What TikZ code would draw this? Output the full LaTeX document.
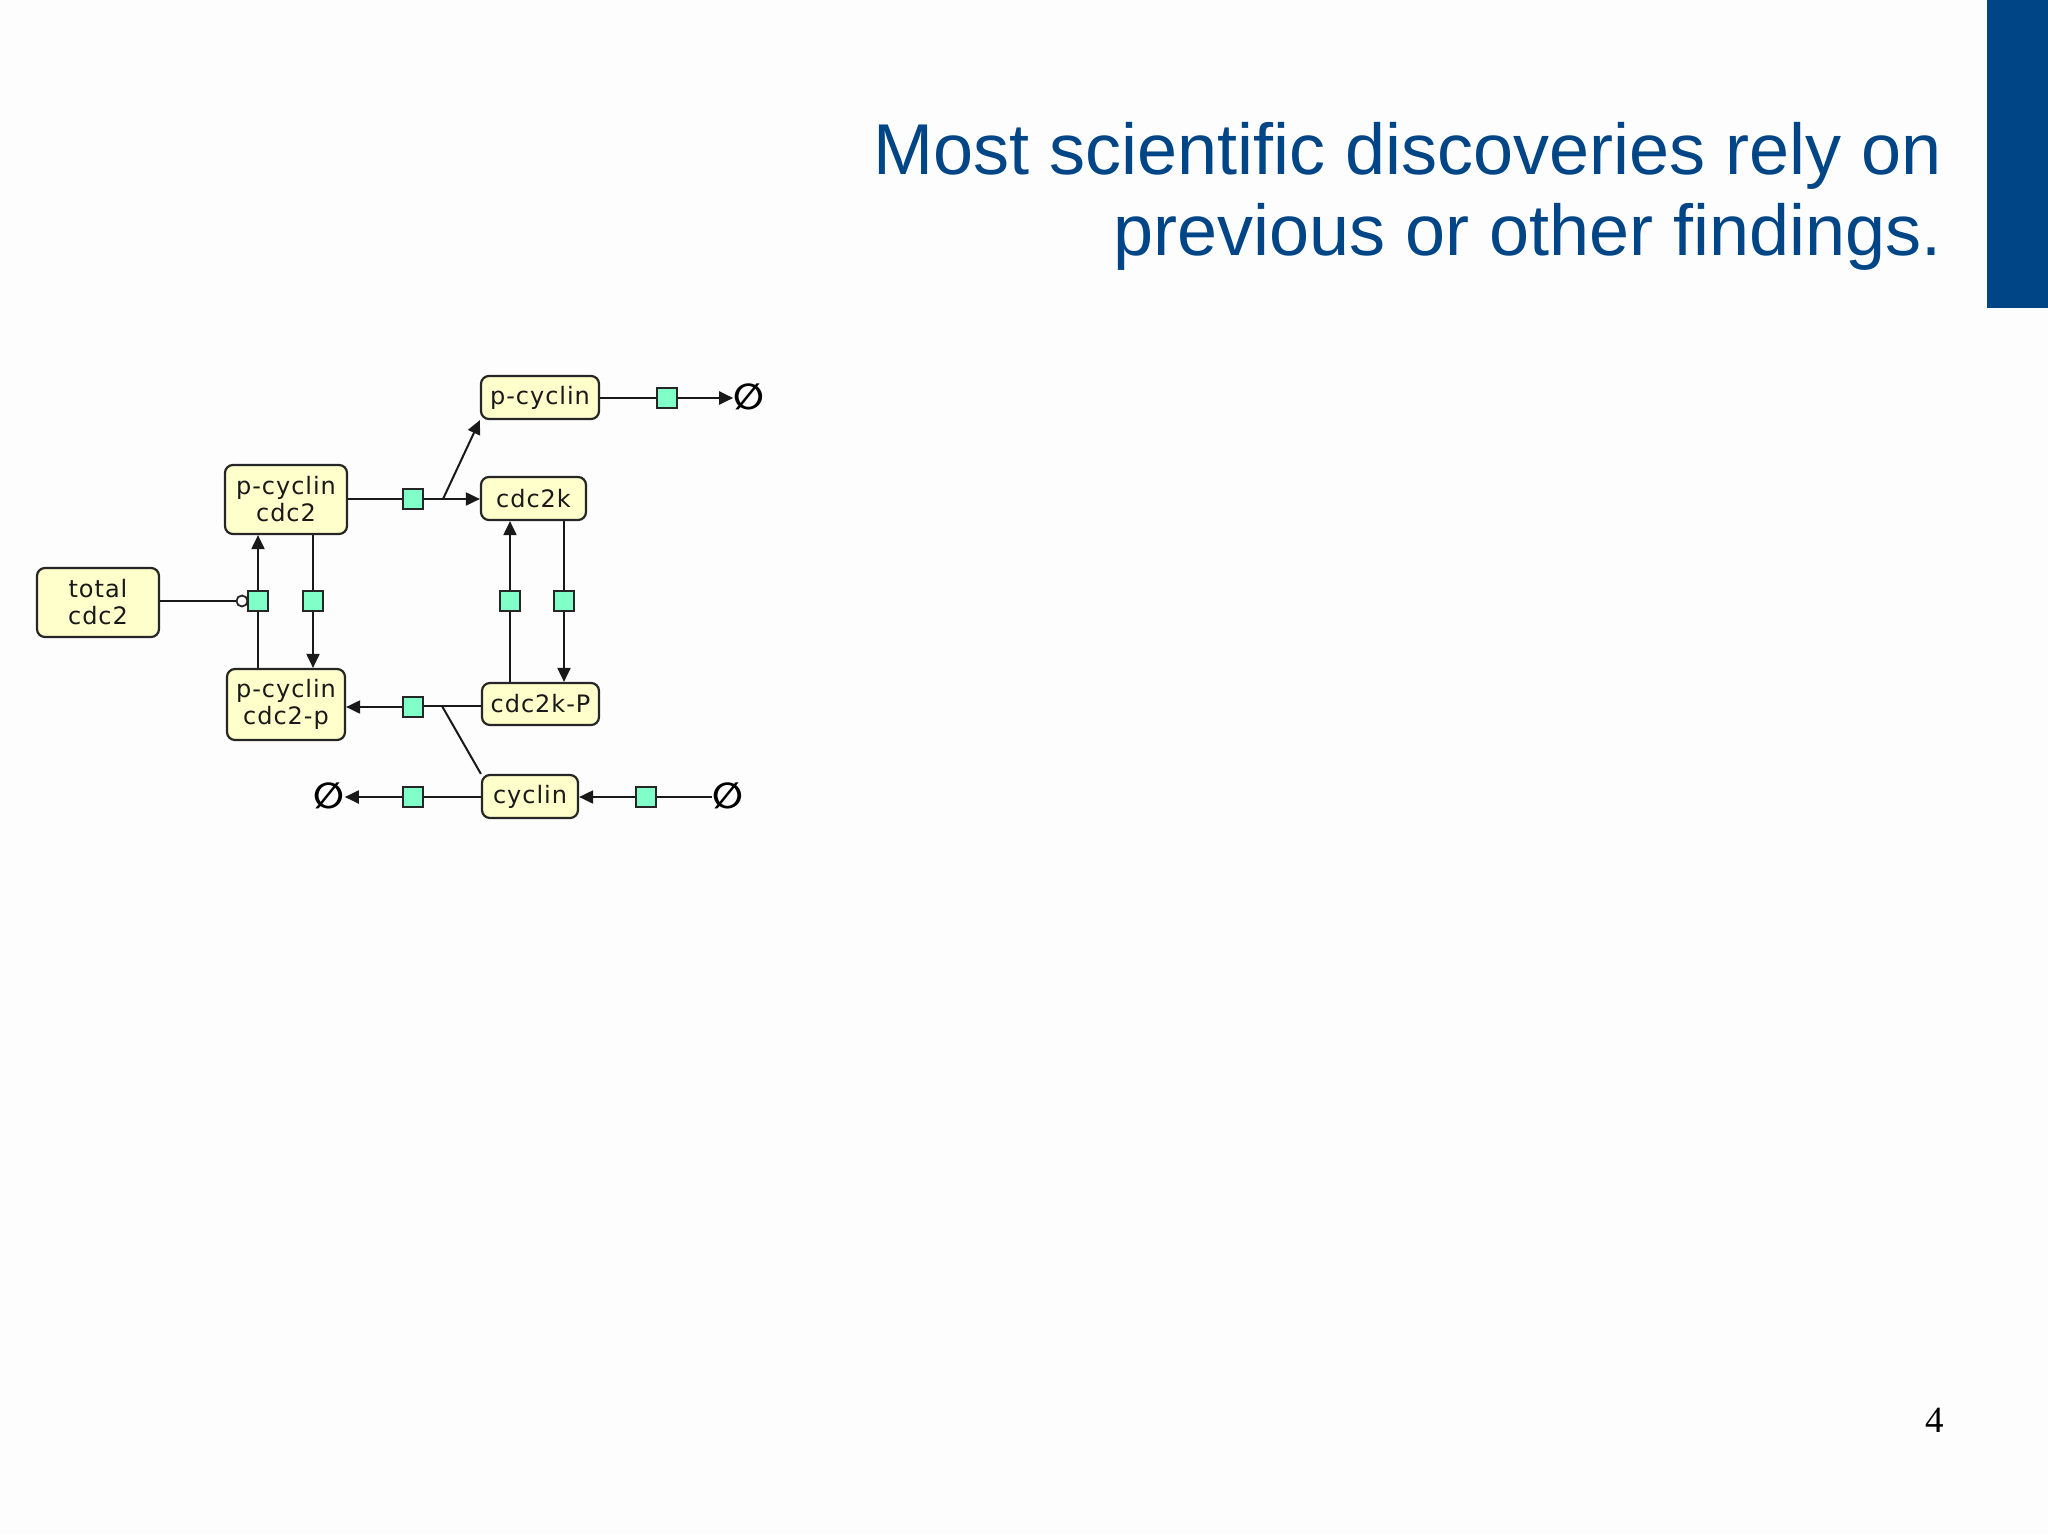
\documentclass[tikz,border=0pt]{standalone}
\usepackage{fontspec}
\setmainfont{Liberation Serif}
\newfontfamily\titlefont{Liberation Sans}
\newfontfamily\nodefont[LetterSpace=4]{DejaVu Sans}
\newfontfamily\esetfont{DejaVu Sans Bold}
\usetikzlibrary{arrows.meta}
\definecolor{titleblue}{RGB}{0,69,134}
\definecolor{boxfill}{RGB}{255,255,204}
\definecolor{sqfill}{RGB}{128,255,200}
\definecolor{bgcol}{RGB}{253,253,253}
\begin{document}
\begin{tikzpicture}[x=0.5pt,y=-0.5pt,
 species/.style={draw=black!85, line width=1.1pt, fill=boxfill, rounded corners=4pt, inner sep=0pt, align=center, font=\nodefont\fontsize{12}{13.5}\selectfont, text=black!90},
 proc/.style={draw=black!85, line width=0.9pt, fill=sqfill, minimum size=10pt, inner sep=0pt},
 emptyset/.style={inner sep=0pt, font=\esetfont\fontsize{18}{18}\selectfont},
 modcirc/.style={circle, draw=black!85, line width=0.9pt, fill=white, minimum size=5.5pt, inner sep=0pt},
 conn/.style={line width=1pt, draw=black!90},
 arr/.style={conn, -{Triangle[length=7pt,width=6.5pt]}},
]
\useasboundingbox (0,0) rectangle (2048,1535);
\fill[bgcol] (0,0) rectangle (2048,1535);
\fill[titleblue] (1987,0) rectangle (2048,308);

% title
\node[anchor=base east, inner sep=0pt, font=\titlefont\fontsize{36}{36}\selectfont, text=titleblue] (t1) at (1942,175) {Most scientific discoveries rely on};
\node[anchor=base east, inner sep=0pt, font=\titlefont\fontsize{36}{36}\selectfont, text=titleblue] (t2) at (1942,256) {previous or other findings.};

% page number
\node[anchor=base east, inner sep=0pt, font=\fontsize{18.5}{18.5}\selectfont] (pn) at (1944,1432) {4};

% species
\node[species, minimum width=61pt, minimum height=34.5pt] (pcdc2) at (286,499.5) {p-cyclin\\cdc2};
\node[species, minimum width=61pt, minimum height=34.5pt] (total) at (98,602.5) {total\\cdc2};
\node[species, minimum width=59pt, minimum height=21.5pt] (pcyc) at (540,397.5) {p-cyclin};
\node[species, minimum width=52.5pt, minimum height=21.5pt] (cdc2k) at (533.5,498.5) {cdc2k};
\node[species, minimum width=59pt, minimum height=35.5pt] (pcdc2p) at (286,704.5) {p-cyclin\\cdc2-p};
\node[species, minimum width=58.5pt, minimum height=21pt] (cdc2kP) at (540.5,704) {cdc2k-P};
\node[species, minimum width=48pt, minimum height=21.5pt] (cyclin) at (530,796.5) {cyclin};

% process squares
\node[proc] (s1) at (413,499) {};
\node[proc] (s2) at (667,398) {};
\node[proc] (s3) at (258,601) {};
\node[proc] (s4) at (313,601) {};
\node[proc] (s5) at (510,601) {};
\node[proc] (s6) at (564,601) {};
\node[proc] (s7) at (413,707) {};
\node[proc] (s8) at (413,797) {};
\node[proc] (s9) at (646,797) {};

% empty sets
\node[emptyset] (e1) at (749,397) {∅};
\node[emptyset] (e2) at (329,796) {∅};
\node[emptyset] (e3) at (728,796) {∅};

% modifier
\node[modcirc] (mod) at (242,601) {};

% branch points
\coordinate (b1) at (443,499);
\coordinate (b2) at (442,706);

% connectors
\draw[conn] (total.east |- mod) -- (mod.west);

\draw[conn] (pcdc2p.north -| s3) -- (s3.south);
\draw[arr] (s3.north) -- (pcdc2.south -| s3);

\draw[conn] (pcdc2.south -| s4) -- (s4.north);
\draw[arr] (s4.south) -- (pcdc2p.north -| s4);

\draw[conn] (pcdc2.east |- s1) -- (s1.west);
\draw[conn] (s1.east) -- (b1);
\draw[arr] (b1) -- (cdc2k.west |- b1);
\draw[arr] (b1) -- (pcyc.south west);

\draw[conn] (pcyc.east |- s2) -- (s2.west);
\draw[arr] (s2.east) -- (e1.west |- s2);

\draw[conn] (cdc2kP.north -| s5) -- (s5.south);
\draw[arr] (s5.north) -- (cdc2k.south -| s5);

\draw[conn] (cdc2k.south -| s6) -- (s6.north);
\draw[arr] (s6.south) -- (cdc2kP.north -| s6);

\draw[conn] (cdc2kP.west |- b2) -- (b2) -- (s7.east |- b2);
\draw[conn] (cyclin.north west) -- (b2);
\draw[arr] (s7.west) -- (pcdc2p.east |- s7);

\draw[conn] (cyclin.west |- s8) -- (s8.east);
\draw[arr] (s8.west) -- (e2.east |- s8);

\draw[conn] (e3.west |- s9) -- (s9.east);
\draw[arr] (s9.west) -- (cyclin.east |- s9);
\end{tikzpicture}
\end{document}
